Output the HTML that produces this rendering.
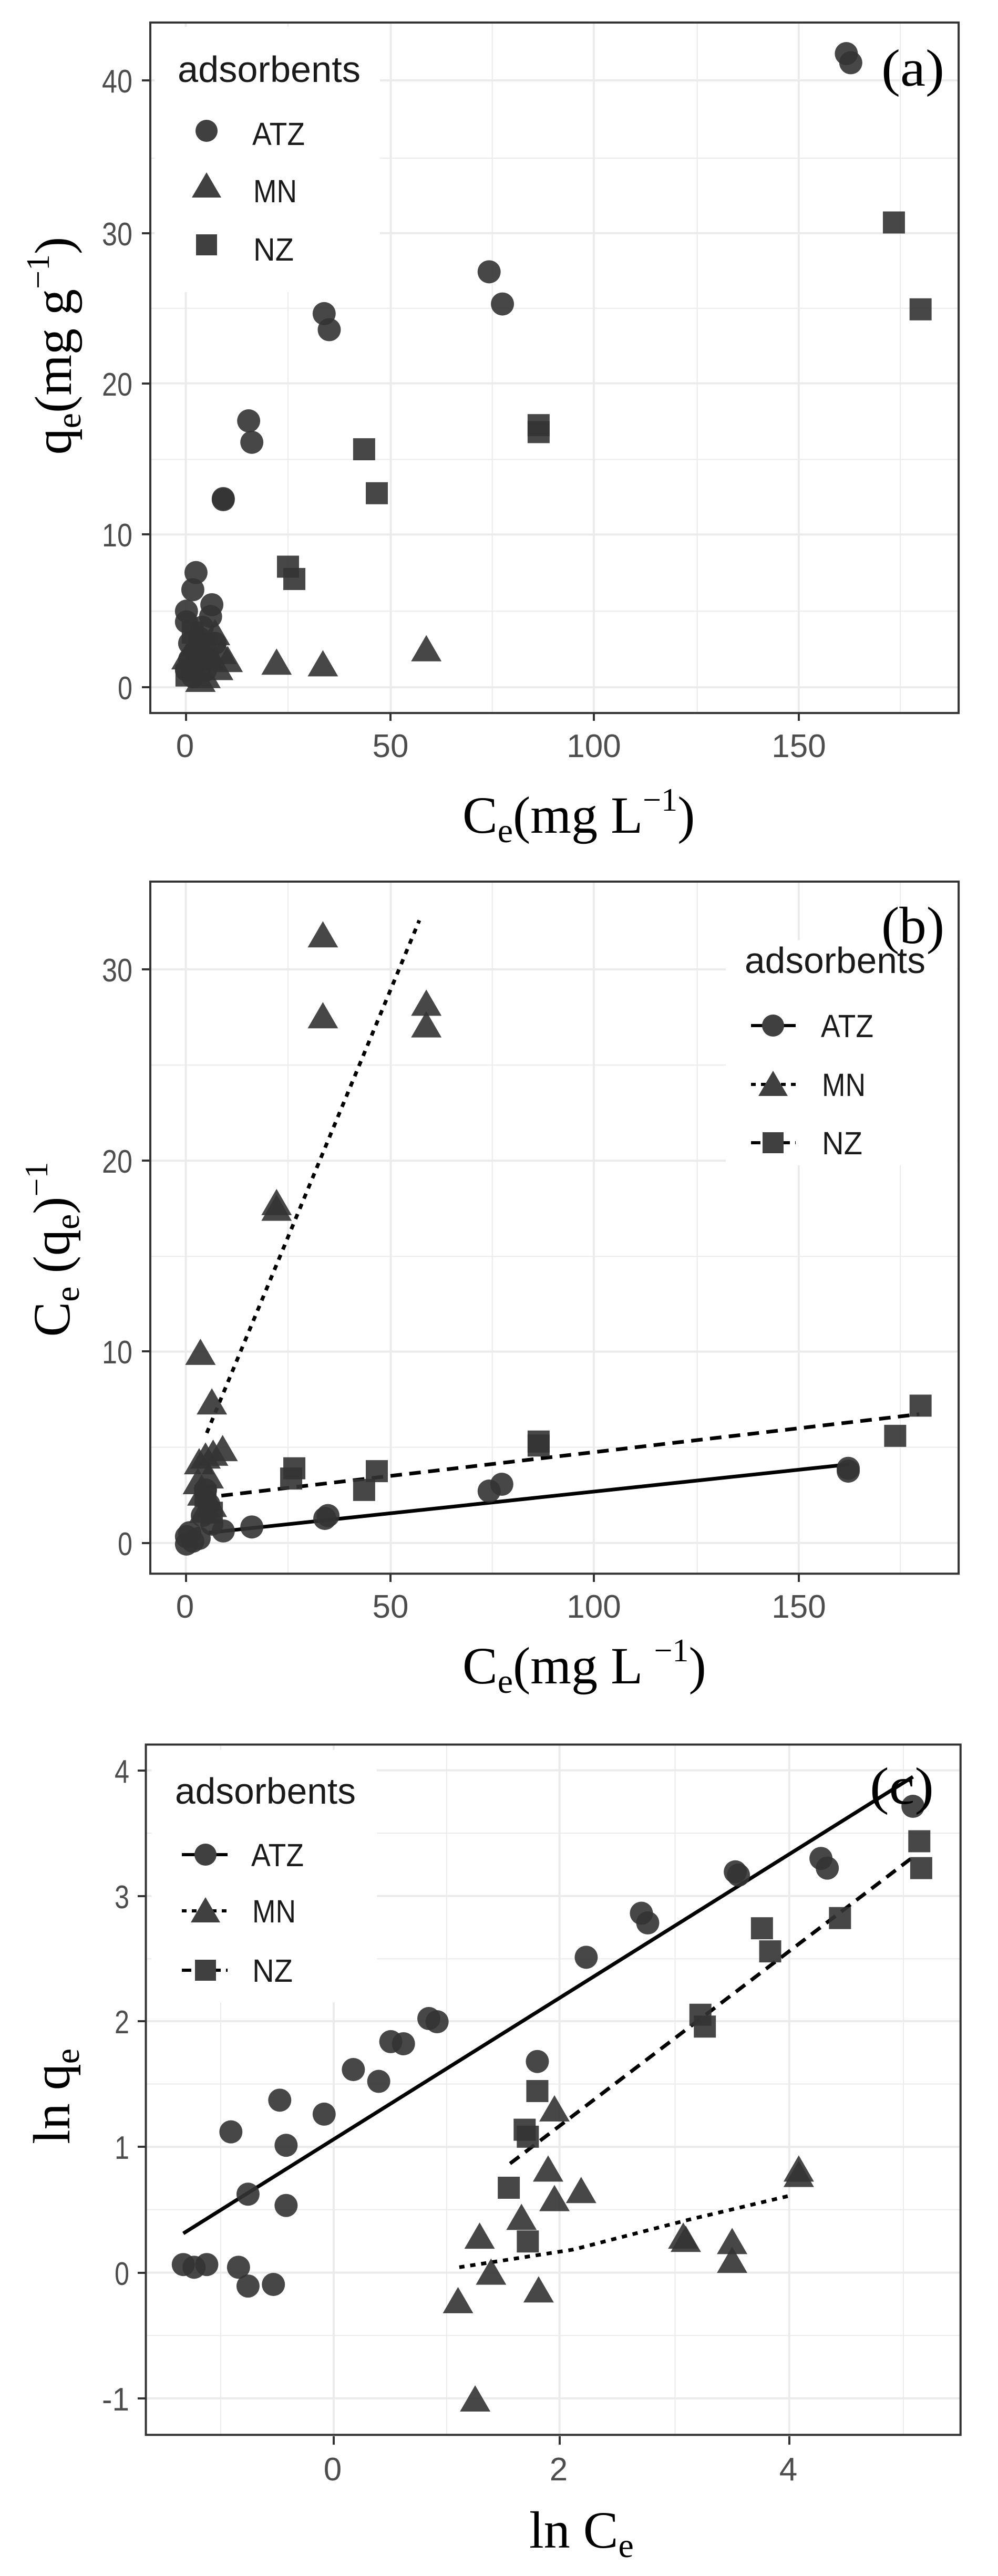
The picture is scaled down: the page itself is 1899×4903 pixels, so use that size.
<!DOCTYPE html>
<html><head><meta charset="utf-8"><style>
html,body{margin:0;padding:0;background:#fff;}
svg{display:block;}
.tk{font-family:"Liberation Sans",Arial,sans-serif;font-size:62px;fill:#4d4d4d;}
.lg{font-family:"Liberation Sans",Arial,sans-serif;fill:#1a1a1a;}
.ti{font-family:"Liberation Serif","Times New Roman",serif;fill:#000;font-size:100px;}
</style></head><body>
<svg width="1899" height="4903" viewBox="0 0 1899 4903" xmlns="http://www.w3.org/2000/svg">
<defs>
<g id="Ca"><circle r="22" transform="scale(0.828,0.98)"/></g>
<g id="Ta"><path d="M0,-31 L29,19 L-29,19Z" transform="scale(0.828,0.98)"/></g>
<g id="Sa"><rect x="-21" y="-21" width="42" height="42" transform="scale(0.828,0.98)"/></g>
<g id="Cb"><circle r="22" transform="scale(0.828,0.922)"/></g>
<g id="Tb"><path d="M0,-31 L29,19 L-29,19Z" transform="scale(0.828,0.922)"/></g>
<g id="Sb"><rect x="-21" y="-21" width="42" height="42" transform="scale(0.828,0.922)"/></g>
<g id="Cc"><circle r="22" transform="scale(0.828,0.978)"/></g>
<g id="Tc"><path d="M0,-31 L29,19 L-29,19Z" transform="scale(0.828,0.978)"/></g>
<g id="Sc"><rect x="-21" y="-21" width="42" height="42" transform="scale(0.828,0.978)"/></g>
<g id="C0"><circle r="21"/></g>
<g id="T0"><path d="M0,-30 L28,18 L-28,18Z"/></g>
<g id="S0"><rect x="-20" y="-20" width="40" height="40"/></g>
</defs>

<!-- ================= PANEL A ================= -->
<g transform="translate(4.7,0) scale(1.2073,1.0204)">
 <g stroke="#ebebeb" fill="none">
  <g stroke-width="2">
   <line x1="450" y1="42" x2="450" y2="1330" vector-effect="non-scaling-stroke"/>
   <line x1="772" y1="42" x2="772" y2="1330" vector-effect="non-scaling-stroke"/>
   <line x1="1095" y1="42" x2="1095" y2="1330" vector-effect="non-scaling-stroke"/>
   <line x1="1415" y1="42" x2="1415" y2="1330" vector-effect="non-scaling-stroke"/>
   <line x1="233" y1="1140" x2="1507" y2="1140" vector-effect="non-scaling-stroke"/>
   <line x1="233" y1="857" x2="1507" y2="857" vector-effect="non-scaling-stroke"/>
   <line x1="233" y1="575" x2="1507" y2="575" vector-effect="non-scaling-stroke"/>
   <line x1="233" y1="295" x2="1507" y2="295" vector-effect="non-scaling-stroke"/>
  </g>
  <g stroke-width="4">
   <line x1="289" y1="42" x2="289" y2="1330" vector-effect="non-scaling-stroke"/>
   <line x1="612" y1="42" x2="612" y2="1330" vector-effect="non-scaling-stroke"/>
   <line x1="932" y1="42" x2="932" y2="1330" vector-effect="non-scaling-stroke"/>
   <line x1="1255" y1="42" x2="1255" y2="1330" vector-effect="non-scaling-stroke"/>
   <line x1="233" y1="1282" x2="1507" y2="1282" vector-effect="non-scaling-stroke"/>
   <line x1="233" y1="997" x2="1507" y2="997" vector-effect="non-scaling-stroke"/>
   <line x1="233" y1="715" x2="1507" y2="715" vector-effect="non-scaling-stroke"/>
   <line x1="233" y1="435" x2="1507" y2="435" vector-effect="non-scaling-stroke"/>
   <line x1="233" y1="150" x2="1507" y2="150" vector-effect="non-scaling-stroke"/>
  </g>
 </g>
 <rect x="240" y="50" width="355" height="495" fill="#fff"/>
 <g fill="#333" fill-opacity="0.9">
  <use href="#Ca" x="1330" y="100"/><use href="#Ca" x="1337" y="117"/>
  <use href="#Ca" x="767" y="507"/><use href="#Ca" x="788" y="567"/>
  <use href="#Ca" x="507" y="585"/><use href="#Ca" x="515" y="615"/>
  <use href="#Ca" x="388" y="785"/><use href="#Ca" x="393" y="825"/>
  <use href="#Ca" x="348" y="932"/><use href="#Ca" x="348" y="930"/>
  <use href="#Ca" x="305" y="1068"/><use href="#Ca" x="300" y="1100"/><use href="#Ca" x="330" y="1128"/>
  <use href="#Ca" x="328" y="1150"/><use href="#Ca" x="290" y="1160"/><use href="#Ca" x="310" y="1190"/>
  <use href="#Ca" x="295" y="1230"/><use href="#Ca" x="320" y="1250"/><use href="#Ca" x="300" y="1262"/>
  <use href="#Ca" x="335" y="1200"/><use href="#Ca" x="290" y="1140"/><use href="#Ca" x="315" y="1170"/>
  <use href="#Ca" x="295" y="1200"/><use href="#Ca" x="325" y="1230"/><use href="#Ca" x="305" y="1215"/>
  <use href="#Ca" x="290" y="1250"/>
  <use href="#Sa" x="1405" y="415"/><use href="#Sa" x="1447" y="577"/>
  <use href="#Sa" x="845" y="793"/><use href="#Sa" x="845" y="806"/>
  <use href="#Sa" x="570" y="838"/><use href="#Sa" x="590" y="920"/>
  <use href="#Sa" x="450" y="1057"/><use href="#Sa" x="460" y="1080"/>
  <use href="#Sa" x="300" y="1180"/><use href="#Sa" x="310" y="1230"/><use href="#Sa" x="320" y="1200"/><use href="#Sa" x="290" y="1260"/>
  <use href="#Ta" x="432" y="1240"/><use href="#Ta" x="505" y="1243"/><use href="#Ta" x="668" y="1215"/>
  <use href="#Ta" x="300" y="1245"/><use href="#Ta" x="320" y="1265"/><use href="#Ta" x="345" y="1220"/>
  <use href="#Ta" x="355" y="1235"/><use href="#Ta" x="312" y="1272"/><use href="#Ta" x="335" y="1185"/>
  <use href="#Ta" x="305" y="1205"/><use href="#Ta" x="325" y="1230"/><use href="#Ta" x="340" y="1250"/>
  <use href="#Ta" x="290" y="1230"/>
 </g>
 <rect x="233" y="42" width="1274" height="1288" fill="none" stroke="#333" stroke-width="4" vector-effect="non-scaling-stroke"/>
</g>
<g stroke="#333" stroke-width="4">
 <line x1="270" y1="1308" x2="286" y2="1308"/><line x1="270" y1="1017" x2="286" y2="1017"/>
 <line x1="270" y1="730" x2="286" y2="730"/><line x1="270" y1="444" x2="286" y2="444"/>
 <line x1="270" y1="153" x2="286" y2="153"/>
 <line x1="354" y1="1356" x2="354" y2="1372"/><line x1="743" y1="1356" x2="743" y2="1372"/>
 <line x1="1130" y1="1356" x2="1130" y2="1372"/><line x1="1520" y1="1356" x2="1520" y2="1372"/>
</g>
<g class="tk" text-anchor="end">
 <text x="252" y="1331" textLength="28" lengthAdjust="spacingAndGlyphs">0</text>
 <text x="252" y="1040" textLength="58" lengthAdjust="spacingAndGlyphs">10</text>
 <text x="252" y="753" textLength="58" lengthAdjust="spacingAndGlyphs">20</text>
 <text x="252" y="467" textLength="58" lengthAdjust="spacingAndGlyphs">30</text>
 <text x="252" y="176" textLength="58" lengthAdjust="spacingAndGlyphs">40</text>
</g>
<g class="tk" text-anchor="middle">
 <text x="352" y="1441">0</text>
 <text x="743" y="1441">50</text>
 <text x="1130" y="1441">100</text>
 <text x="1520" y="1441">150</text>
</g>
<g class="lg">
 <text x="338" y="156" font-size="70" textLength="348" lengthAdjust="spacingAndGlyphs">adsorbents</text>
 <text x="480" y="276" font-size="61" textLength="100" lengthAdjust="spacingAndGlyphs">ATZ</text>
 <text x="482" y="385" font-size="61" textLength="83" lengthAdjust="spacingAndGlyphs">MN</text>
 <text x="482" y="496" font-size="61" textLength="77" lengthAdjust="spacingAndGlyphs">NZ</text>
</g>
<g fill="#404040">
 <use href="#C0" x="393" y="249"/><use href="#T0" x="393" y="358"/><use href="#S0" x="393" y="466"/>
</g>
<text class="ti" x="1677" y="163" font-size="112" textLength="120" lengthAdjust="spacingAndGlyphs">(a)</text>
<text class="ti" x="880" y="1585">C<tspan font-size="66" dy="18">e</tspan><tspan dy="-18">(mg L</tspan><tspan font-size="62" dy="-42">−1</tspan><tspan dy="42">)</tspan></text>
<text class="ti" transform="translate(135,658) rotate(-90)" text-anchor="middle">q<tspan font-size="66" dy="18">e</tspan><tspan dy="-18">(mg g</tspan><tspan font-size="62" dy="-42">−1</tspan><tspan dy="42">)</tspan></text>

<!-- ================= PANEL B ================= -->
<g transform="translate(4.7,1600) scale(1.2073,1.0841)">
 <g stroke="#ebebeb" fill="none">
  <g stroke-width="2">
   <line x1="450" y1="72" x2="450" y2="1287" vector-effect="non-scaling-stroke"/>
   <line x1="772" y1="72" x2="772" y2="1287" vector-effect="non-scaling-stroke"/>
   <line x1="1095" y1="72" x2="1095" y2="1287" vector-effect="non-scaling-stroke"/>
   <line x1="1415" y1="72" x2="1415" y2="1287" vector-effect="non-scaling-stroke"/>
   <line x1="233" y1="1065" x2="1507" y2="1065" vector-effect="non-scaling-stroke"/>
   <line x1="233" y1="730" x2="1507" y2="730" vector-effect="non-scaling-stroke"/>
   <line x1="233" y1="394" x2="1507" y2="394" vector-effect="non-scaling-stroke"/>
  </g>
  <g stroke-width="4">
   <line x1="289" y1="72" x2="289" y2="1287" vector-effect="non-scaling-stroke"/>
   <line x1="612" y1="72" x2="612" y2="1287" vector-effect="non-scaling-stroke"/>
   <line x1="932" y1="72" x2="932" y2="1287" vector-effect="non-scaling-stroke"/>
   <line x1="1255" y1="72" x2="1255" y2="1287" vector-effect="non-scaling-stroke"/>
   <line x1="233" y1="1233" x2="1507" y2="1233" vector-effect="non-scaling-stroke"/>
   <line x1="233" y1="897" x2="1507" y2="897" vector-effect="non-scaling-stroke"/>
   <line x1="233" y1="562" x2="1507" y2="562" vector-effect="non-scaling-stroke"/>
   <line x1="233" y1="226" x2="1507" y2="226" vector-effect="non-scaling-stroke"/>
  </g>
 </g>
 <rect x="1140" y="175" width="365" height="395" fill="#fff"/>
 <g fill="none" stroke="#000" stroke-width="7">
  <line x1="325" y1="1215" x2="1335" y2="1095" vector-effect="non-scaling-stroke"/>
  <line x1="345" y1="1150" x2="1445" y2="1007" stroke-dasharray="22,14" vector-effect="non-scaling-stroke"/>
  <line x1="322" y1="1040" x2="657" y2="140" stroke-dasharray="10,11" vector-effect="non-scaling-stroke"/>
 </g>
 <g fill="#333" fill-opacity="0.9">
  <use href="#Tb" x="505" y="170"/><use href="#Tb" x="505" y="312"/><use href="#Tb" x="668" y="290"/><use href="#Tb" x="668" y="328"/>
  <use href="#Tb" x="432" y="640"/><use href="#Tb" x="432" y="650"/><use href="#Tb" x="312" y="903"/><use href="#Tb" x="330" y="990"/>
  <use href="#Tb" x="347" y="1072"/><use href="#Tb" x="320" y="1085"/><use href="#Tb" x="332" y="1080"/><use href="#Tb" x="310" y="1095"/>
  <use href="#Tb" x="325" y="1120"/><use href="#Tb" x="315" y="1150"/><use href="#Tb" x="330" y="1170"/><use href="#Tb" x="318" y="1180"/>
  <use href="#Tb" x="308" y="1130"/>
  <use href="#Sb" x="1447" y="992"/><use href="#Sb" x="1407" y="1045"/><use href="#Sb" x="845" y="1055"/><use href="#Sb" x="845" y="1062"/>
  <use href="#Sb" x="460" y="1102"/><use href="#Sb" x="455" y="1120"/><use href="#Sb" x="590" y="1107"/><use href="#Sb" x="570" y="1140"/>
  <use href="#Sb" x="320" y="1150"/><use href="#Sb" x="330" y="1180"/>
  <use href="#Cb" x="1333" y="1102"/><use href="#Cb" x="1333" y="1107"/><use href="#Cb" x="787" y="1130"/><use href="#Cb" x="767" y="1142"/>
  <use href="#Cb" x="513" y="1185"/><use href="#Cb" x="508" y="1190"/><use href="#Cb" x="393" y="1205"/><use href="#Cb" x="348" y="1212"/>
  <use href="#Cb" x="290" y="1222"/><use href="#Cb" x="300" y="1230"/><use href="#Cb" x="295" y="1215"/><use href="#Cb" x="310" y="1225"/>
  <use href="#Cb" x="320" y="1140"/><use href="#Cb" x="325" y="1165"/><use href="#Cb" x="315" y="1185"/><use href="#Cb" x="330" y="1200"/>
  <use href="#Cb" x="290" y="1235"/>
 </g>
 <rect x="233" y="72" width="1274" height="1215" fill="none" stroke="#333" stroke-width="4" vector-effect="non-scaling-stroke"/>
</g>
<g stroke="#333" stroke-width="4">
 <line x1="270" y1="2937" x2="286" y2="2937"/><line x1="270" y1="2572" x2="286" y2="2572"/>
 <line x1="270" y1="2209" x2="286" y2="2209"/><line x1="270" y1="1845" x2="286" y2="1845"/>
 <line x1="354" y1="2995" x2="354" y2="3011"/><line x1="743" y1="2995" x2="743" y2="3011"/>
 <line x1="1130" y1="2995" x2="1130" y2="3011"/><line x1="1520" y1="2995" x2="1520" y2="3011"/>
</g>
<g class="tk" text-anchor="end">
 <text x="252" y="2960" textLength="28" lengthAdjust="spacingAndGlyphs">0</text>
 <text x="252" y="2595" textLength="58" lengthAdjust="spacingAndGlyphs">10</text>
 <text x="252" y="2232" textLength="58" lengthAdjust="spacingAndGlyphs">20</text>
 <text x="252" y="1868" textLength="58" lengthAdjust="spacingAndGlyphs">30</text>
</g>
<g class="tk" text-anchor="middle">
 <text x="352" y="3079">0</text>
 <text x="743" y="3079">50</text>
 <text x="1130" y="3079">100</text>
 <text x="1520" y="3079">150</text>
</g>
<g class="lg">
 <text x="1417" y="1852" font-size="70" textLength="344" lengthAdjust="spacingAndGlyphs">adsorbents</text>
 <text x="1562" y="1974" font-size="61" textLength="100" lengthAdjust="spacingAndGlyphs">ATZ</text>
 <text x="1564" y="2086" font-size="61" textLength="83" lengthAdjust="spacingAndGlyphs">MN</text>
 <text x="1564" y="2197" font-size="61" textLength="77" lengthAdjust="spacingAndGlyphs">NZ</text>
</g>
<g stroke="#000" stroke-width="6">
 <line x1="1429" y1="1952" x2="1514" y2="1952"/>
 <line x1="1429" y1="2064" x2="1514" y2="2064" stroke-dasharray="9,10"/>
 <line x1="1429" y1="2175" x2="1514" y2="2175" stroke-dasharray="18,10"/>
</g>
<g fill="#404040">
 <use href="#C0" x="1471" y="1952"/><use href="#T0" x="1471" y="2068"/><use href="#S0" x="1471" y="2175"/>
</g>
<text class="ti" x="1677" y="1795" font-size="112" textLength="120" lengthAdjust="spacingAndGlyphs">(b)</text>
<text class="ti" x="880" y="3204">C<tspan font-size="66" dy="18">e</tspan><tspan dy="-18">(mg L </tspan><tspan font-size="62" dy="-42">−1</tspan><tspan dy="42">)</tspan></text>
<text class="ti" transform="translate(132,2378) rotate(-90)" text-anchor="middle">C<tspan font-size="66" dy="18">e</tspan><tspan dy="-18"> (q</tspan><tspan font-size="66" dy="18">e</tspan><tspan dy="-18">)</tspan><tspan font-size="62" dy="-42">−1</tspan></text>

<!-- ================= PANEL C ================= -->
<g transform="translate(4.7,3300) scale(1.2073,1.0225)">
 <g stroke="#ebebeb" fill="none">
  <g stroke-width="2">
   <line x1="344" y1="20" x2="344" y2="1305" vector-effect="non-scaling-stroke"/>
   <line x1="700" y1="20" x2="700" y2="1305" vector-effect="non-scaling-stroke"/>
   <line x1="1060" y1="20" x2="1060" y2="1305" vector-effect="non-scaling-stroke"/>
   <line x1="1420" y1="20" x2="1420" y2="1305" vector-effect="non-scaling-stroke"/>
   <line x1="226" y1="185" x2="1510" y2="185" vector-effect="non-scaling-stroke"/>
   <line x1="226" y1="419" x2="1510" y2="419" vector-effect="non-scaling-stroke"/>
   <line x1="226" y1="652" x2="1510" y2="652" vector-effect="non-scaling-stroke"/>
   <line x1="226" y1="886" x2="1510" y2="886" vector-effect="non-scaling-stroke"/>
   <line x1="226" y1="1120" x2="1510" y2="1120" vector-effect="non-scaling-stroke"/>
  </g>
  <g stroke-width="4">
   <line x1="522" y1="20" x2="522" y2="1305" vector-effect="non-scaling-stroke"/>
   <line x1="878" y1="20" x2="878" y2="1305" vector-effect="non-scaling-stroke"/>
   <line x1="1240" y1="20" x2="1240" y2="1305" vector-effect="non-scaling-stroke"/>
   <line x1="226" y1="68" x2="1510" y2="68" vector-effect="non-scaling-stroke"/>
   <line x1="226" y1="302" x2="1510" y2="302" vector-effect="non-scaling-stroke"/>
   <line x1="226" y1="535" x2="1510" y2="535" vector-effect="non-scaling-stroke"/>
   <line x1="226" y1="769" x2="1510" y2="769" vector-effect="non-scaling-stroke"/>
   <line x1="226" y1="1003" x2="1510" y2="1003" vector-effect="non-scaling-stroke"/>
   <line x1="226" y1="1237" x2="1510" y2="1237" vector-effect="non-scaling-stroke"/>
  </g>
 </g>
 <rect x="235" y="30" width="355" height="470" fill="#fff"/>
 <g fill="none" stroke="#000" stroke-width="7">
  <line x1="285" y1="930" x2="1435" y2="80" vector-effect="non-scaling-stroke"/>
  <line x1="800" y1="800" x2="1440" y2="225" stroke-dasharray="22,14" vector-effect="non-scaling-stroke"/>
  <polyline points="720,993 900,960 1080,905 1240,860" stroke-dasharray="10,11" vector-effect="non-scaling-stroke"/>
 </g>
 <g fill="#333" fill-opacity="0.9">
  <use href="#Cc" x="285" y="988"/><use href="#Cc" x="302" y="993"/><use href="#Cc" x="322" y="988"/><use href="#Cc" x="360" y="741"/>
  <use href="#Cc" x="372" y="993"/><use href="#Cc" x="387" y="1028"/><use href="#Cc" x="387" y="857"/><use href="#Cc" x="427" y="1025"/>
  <use href="#Cc" x="437" y="682"/><use href="#Cc" x="447" y="766"/><use href="#Cc" x="447" y="878"/><use href="#Cc" x="507" y="708"/>
  <use href="#Cc" x="553" y="625"/><use href="#Cc" x="593" y="647"/><use href="#Cc" x="612" y="573"/><use href="#Cc" x="632" y="577"/>
  <use href="#Cc" x="672" y="530"/><use href="#Cc" x="685" y="536"/><use href="#Cc" x="843" y="610"/><use href="#Cc" x="920" y="416"/>
  <use href="#Cc" x="1007" y="334"/><use href="#Cc" x="1017" y="352"/><use href="#Cc" x="1155" y="257"/><use href="#Cc" x="1160" y="263"/>
  <use href="#Cc" x="1290" y="232"/><use href="#Cc" x="1300" y="250"/><use href="#Cc" x="1435" y="135"/>
  <use href="#Sc" x="843" y="665"/><use href="#Sc" x="823" y="737"/><use href="#Sc" x="828" y="750"/><use href="#Sc" x="798" y="845"/>
  <use href="#Sc" x="828" y="945"/><use href="#Sc" x="1100" y="523"/><use href="#Sc" x="1107" y="545"/><use href="#Sc" x="1197" y="362"/>
  <use href="#Sc" x="1210" y="405"/><use href="#Sc" x="1320" y="343"/><use href="#Sc" x="1445" y="200"/><use href="#Sc" x="1448" y="250"/>
  <use href="#Tc" x="870" y="703"/><use href="#Tc" x="860" y="815"/><use href="#Tc" x="870" y="870"/><use href="#Tc" x="912" y="855"/>
  <use href="#Tc" x="818" y="905"/><use href="#Tc" x="752" y="940"/><use href="#Tc" x="1073" y="940"/><use href="#Tc" x="1077" y="946"/>
  <use href="#Tc" x="1150" y="950"/><use href="#Tc" x="1150" y="985"/><use href="#Tc" x="770" y="1007"/><use href="#Tc" x="845" y="1040"/>
  <use href="#Tc" x="718" y="1060"/><use href="#Tc" x="745" y="1243"/><use href="#Tc" x="1255" y="815"/><use href="#Tc" x="1255" y="825"/>
 </g>
 <rect x="226" y="20" width="1284" height="1285" fill="none" stroke="#333" stroke-width="4" vector-effect="non-scaling-stroke"/>
</g>
<g stroke="#333" stroke-width="4">
 <line x1="262" y1="3370" x2="278" y2="3370"/><line x1="262" y1="3609" x2="278" y2="3609"/>
 <line x1="262" y1="3847" x2="278" y2="3847"/><line x1="262" y1="4086" x2="278" y2="4086"/>
 <line x1="262" y1="4326" x2="278" y2="4326"/><line x1="262" y1="4565" x2="278" y2="4565"/>
 <line x1="635" y1="4637" x2="635" y2="4653"/><line x1="1065" y1="4637" x2="1065" y2="4653"/>
 <line x1="1502" y1="4637" x2="1502" y2="4653"/>
</g>
<g class="tk" text-anchor="end">
 <text x="246" y="3393" textLength="28" lengthAdjust="spacingAndGlyphs">4</text>
 <text x="246" y="3632" textLength="28" lengthAdjust="spacingAndGlyphs">3</text>
 <text x="246" y="3870" textLength="28" lengthAdjust="spacingAndGlyphs">2</text>
 <text x="246" y="4109" textLength="28" lengthAdjust="spacingAndGlyphs">1</text>
 <text x="246" y="4349" textLength="28" lengthAdjust="spacingAndGlyphs">0</text>
 <text x="246" y="4588" textLength="52" lengthAdjust="spacingAndGlyphs">-1</text>
</g>
<g class="tk" text-anchor="middle">
 <text x="633" y="4721">0</text>
 <text x="1063" y="4721">2</text>
 <text x="1500" y="4721">4</text>
</g>
<g class="lg">
 <text x="333" y="3433" font-size="70" textLength="344" lengthAdjust="spacingAndGlyphs">adsorbents</text>
 <text x="478" y="3552" font-size="61" textLength="100" lengthAdjust="spacingAndGlyphs">ATZ</text>
 <text x="480" y="3659" font-size="61" textLength="83" lengthAdjust="spacingAndGlyphs">MN</text>
 <text x="480" y="3772" font-size="61" textLength="77" lengthAdjust="spacingAndGlyphs">NZ</text>
</g>
<g stroke="#000" stroke-width="6">
 <line x1="346" y1="3530" x2="433" y2="3530"/>
 <line x1="346" y1="3637" x2="433" y2="3637" stroke-dasharray="9,10"/>
 <line x1="346" y1="3750" x2="433" y2="3750" stroke-dasharray="18,10"/>
</g>
<g fill="#404040">
 <use href="#C0" x="391" y="3530"/><use href="#T0" x="391" y="3641"/><use href="#S0" x="391" y="3750"/>
</g>
<text class="ti" x="1655" y="3433" font-size="112" textLength="122" lengthAdjust="spacingAndGlyphs">(c)</text>
<text class="ti" x="1007" y="4849">ln C<tspan font-size="66" dy="18">e</tspan></text>
<text class="ti" transform="translate(132,3990) rotate(-90)" text-anchor="middle">ln q<tspan font-size="66" dy="18">e</tspan></text>
</svg>
</body></html>
